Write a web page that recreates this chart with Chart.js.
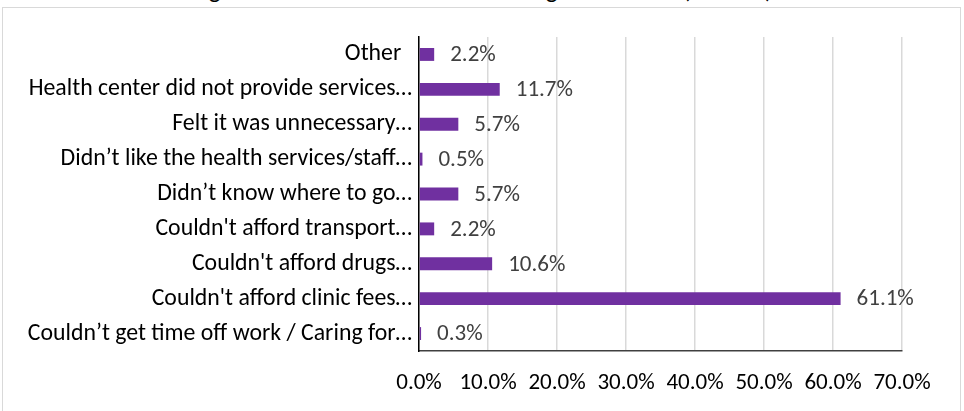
<!DOCTYPE html>
<html>
<head>
<meta charset="utf-8">
<script src="https://cdn.jsdelivr.net/npm/chart.js@4"></script>
<style>
  html, body { margin: 0; padding: 0; background: #fff; overflow: hidden; }
  #wrap { position: relative; width: 964px; height: 411px; }
  #frame { position: absolute; left: 2px; top: 7px; width: 957px; height: 410px; border: 1px solid #d9d9d9; }
  #title { position: absolute; left: 0; width: 964px; top: -23px; text-align: center;
           font: 25px Carlito, Lato, sans-serif; line-height: 25px; color: #000; white-space: nowrap; }
  canvas { position: absolute; left: 0; top: 0; }
</style>
</head>
<body>
<div id="wrap">
  <div id="frame"></div>
  <div id="title">Figure 10: Reasons for not accessing health care (n = 366)</div>
  <canvas id="chart" width="964" height="411"></canvas>
</div>
<script>
const reasons = [
  "Other  ",
  "Health center did not provide services…",
  "Felt it was unnecessary…",
  "Didn’t like the health services/staff…",
  "Didn’t know where to go…",
  "Couldn't afford transport…",
  "Couldn't afford drugs…",
  "Couldn't afford clinic fees…",
  "Couldn’t get time off work / Caring for…",
];
const percents = [2.2, 11.7, 5.7, 0.5, 5.7, 2.2, 10.6, 61.1, 0.3];

const FONT = "Carlito, Lato, sans-serif";

// writes the value next to the end of each bar
const valueLabels = {
  id: "valueLabels",
  afterDatasetsDraw(chart) {
    const ctx = chart.ctx;
    const meta = chart.getDatasetMeta(0);
    ctx.save();
    ctx.font = "23px " + FONT;
    ctx.fillStyle = "#404040";
    ctx.textAlign = "left";
    ctx.textBaseline = "middle";
    meta.data.forEach((bar, i) => {
      ctx.fillText(percents[i].toFixed(1) + "%", bar.x + 16, bar.y + 1);
    });
    ctx.restore();
  },
};

new Chart(document.getElementById("chart").getContext("2d"), {
  type: "bar",
  data: {
    labels: reasons,
    datasets: [
      {
        data: percents,
        backgroundColor: "#7030a0",
        barPercentage: 0.37,
        categoryPercentage: 1,
      },
    ],
  },
  options: {
    indexAxis: "y",
    responsive: false,
    animation: false,
    layout: { padding: { top: 37, right: 62, bottom: 0, left: 0 } },
    plugins: { legend: { display: false }, tooltip: { enabled: false } },
    scales: {
      x: {
        min: 0,
        max: 70,
        ticks: {
          stepSize: 10,
          color: "#000",
          font: { family: FONT, size: 23 },
          padding: 18,
          maxRotation: 0,
          callback: (v) => v.toFixed(1) + "%",
        },
        grid: { color: "#d9d9d9", lineWidth: 1.5, drawTicks: false },
        border: { color: "#404040", width: 1.5 },
        afterFit: (s) => { s.height = 60; },
      },
      y: {
        ticks: {
          color: "#000",
          font: { family: FONT, size: 23.8 },
          padding: 7,
        },
        grid: { display: false, drawTicks: false },
        border: { color: "#000", width: 1.5 },
        afterFit: (s) => { s.width = 419; },
      },
    },
  },
  plugins: [valueLabels],
});
</script>
</body>
</html>
